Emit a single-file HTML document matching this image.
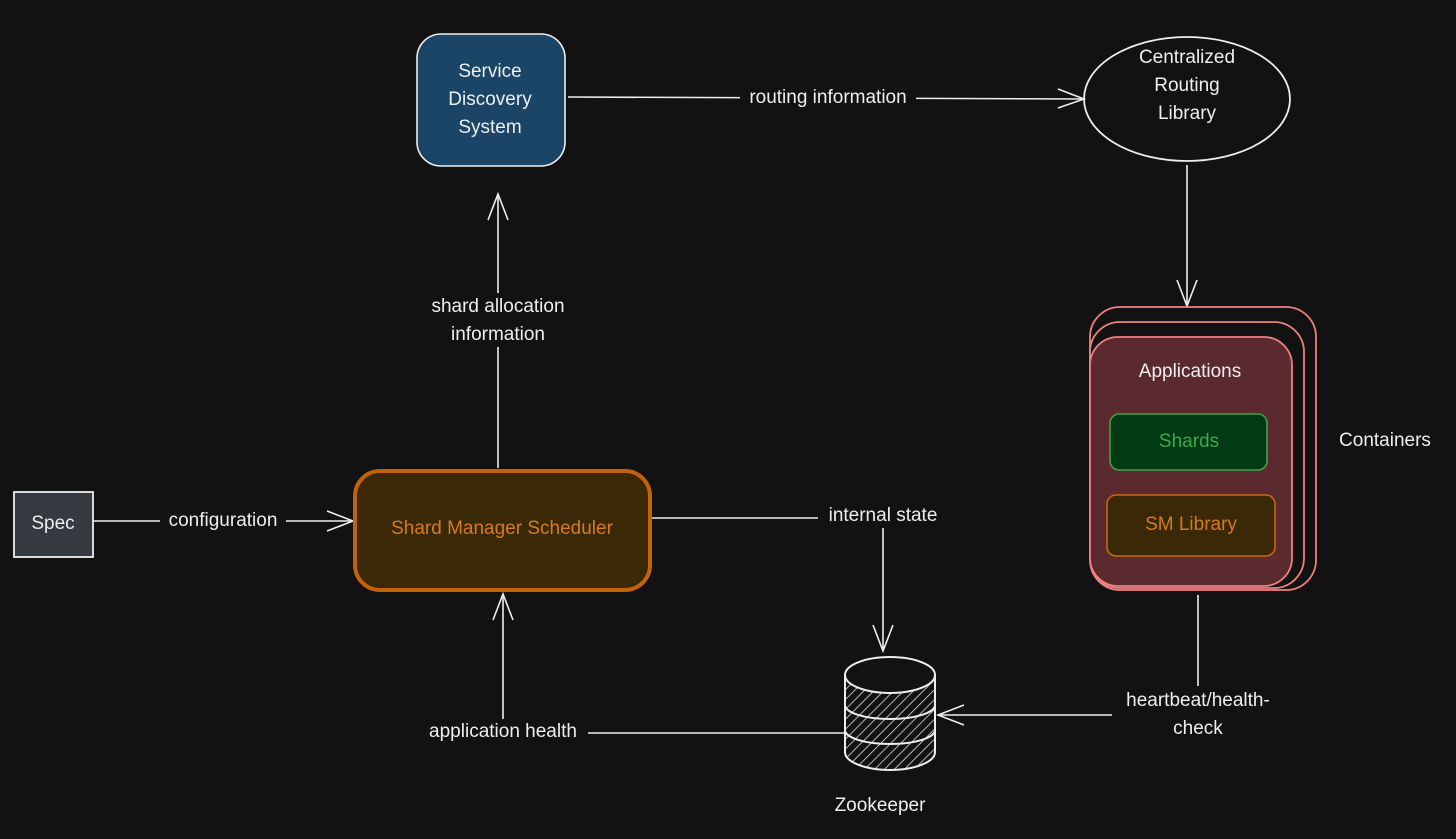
<!DOCTYPE html>
<html><head><meta charset="utf-8"><style>
html,body{margin:0;padding:0;background:#121212;}
svg text{font-family:"Liberation Sans",sans-serif;font-size:19px;fill:#eee;text-anchor:middle;dominant-baseline:middle;}
</style></head><body>
<svg width="1456" height="834" viewBox="0 0 1456 834" xmlns="http://www.w3.org/2000/svg">
<defs>
<pattern id="h" width="7" height="7" patternUnits="userSpaceOnUse" patternTransform="rotate(45)">
<rect width="7" height="7" fill="#121212"/><line x1="0" y1="0" x2="0" y2="7" stroke="#ddd" stroke-width="1.6"/>
</pattern>
</defs>
<rect width="1456" height="834" fill="#121212"/>
<g stroke="#eee" stroke-width="1.6" fill="none">
<line x1="568" y1="97" x2="1083" y2="99"/><path d="M1058 89 L1084 99 L1058 108"/>
<line x1="1187" y1="165" x2="1187" y2="305"/><path d="M1177 280 L1187 306 L1197 280"/>
<line x1="498" y1="468" x2="498" y2="195"/><path d="M488 220 L498 194 L508 220"/>
<line x1="93" y1="521" x2="352" y2="521"/><path d="M327 511 L353 521 L327 531"/>
<path d="M652 518 L883 518 L883 650"/><path d="M873 625 L883 651 L893 625"/>
<path d="M1198 595 L1198 715 L939 715"/><path d="M964 705 L938 715 L964 725"/>
<path d="M845 733 L503 733 L503 595"/><path d="M493 620 L503 594 L513 620"/>
</g>
<g fill="#121212">
<rect x="740" y="86" width="176" height="24"/>
<rect x="418" y="293" width="160" height="54"/>
<rect x="160" y="509" width="126" height="24"/>
<rect x="818" y="504" width="130" height="24"/>
<rect x="1112" y="686" width="172" height="56"/>
<rect x="418" y="719" width="170" height="26"/>
</g>
<text x="828" y="98">routing information</text>
<text x="498" y="307">shard allocation</text>
<text x="498" y="335">information</text>
<text x="223" y="521">configuration</text>
<text x="883" y="516">internal state</text>
<text x="1198" y="701">heartbeat/health-</text>
<text x="1198" y="729">check</text>
<text x="503" y="732">application health</text>

<rect x="417" y="34" width="148" height="132" rx="24" fill="#1a4566" stroke="#eee" stroke-width="1.6"/>
<text x="490" y="72">Service</text>
<text x="490" y="100">Discovery</text>
<text x="490" y="128">System</text>
<ellipse cx="1187" cy="99" rx="103" ry="62" fill="none" stroke="#eee" stroke-width="1.8"/>
<text x="1187" y="58">Centralized</text>
<text x="1187" y="86">Routing</text>
<text x="1187" y="114">Library</text>
<rect x="1090" y="307" width="226" height="283" rx="30" fill="#121212" stroke="#f08080" stroke-width="1.8"/>
<rect x="1090" y="322" width="214" height="266" rx="30" fill="#121212" stroke="#f08080" stroke-width="1.8"/>
<rect x="1090" y="337" width="202" height="249" rx="28" fill="#5a2a2f" stroke="#f08080" stroke-width="1.8"/>
<text x="1190" y="372" font-size="18">Applications</text>
<rect x="1110" y="414" width="157" height="56" rx="9" fill="#033a16" stroke="#40a050" stroke-width="1.6"/>
<text x="1189" y="442" style="fill:#3fa54f">Shards</text>
<rect x="1107" y="495" width="168" height="61" rx="9" fill="#3a2806" stroke="#c66a10" stroke-width="1.6"/>
<text x="1191" y="525" style="fill:#d67b1a">SM Library</text>
<text x="1385" y="441">Containers</text>
<rect x="14" y="492" width="79" height="65" fill="#343a40" stroke="#eee" stroke-width="1.8"/>
<text x="53" y="524">Spec</text>
<rect x="355" y="471" width="295" height="119" rx="25" fill="#3a2806" stroke="#c2620a" stroke-width="4"/>
<text x="502" y="529" style="fill:#d67b1a">Shard Manager Scheduler</text>
<g stroke="#eee" stroke-width="2">
<path d="M845 675 L845 752 A45 18 0 0 0 935 752 L935 675" fill="url(#h)"/>
<path d="M845 705 A45 14 0 0 0 935 705" fill="none"/>
<path d="M845 730 A45 14 0 0 0 935 730" fill="none"/>
<ellipse cx="890" cy="675" rx="45" ry="18" fill="#121212"/>
</g>
<text x="880" y="806">Zookeeper</text>
</svg>
</body></html>
